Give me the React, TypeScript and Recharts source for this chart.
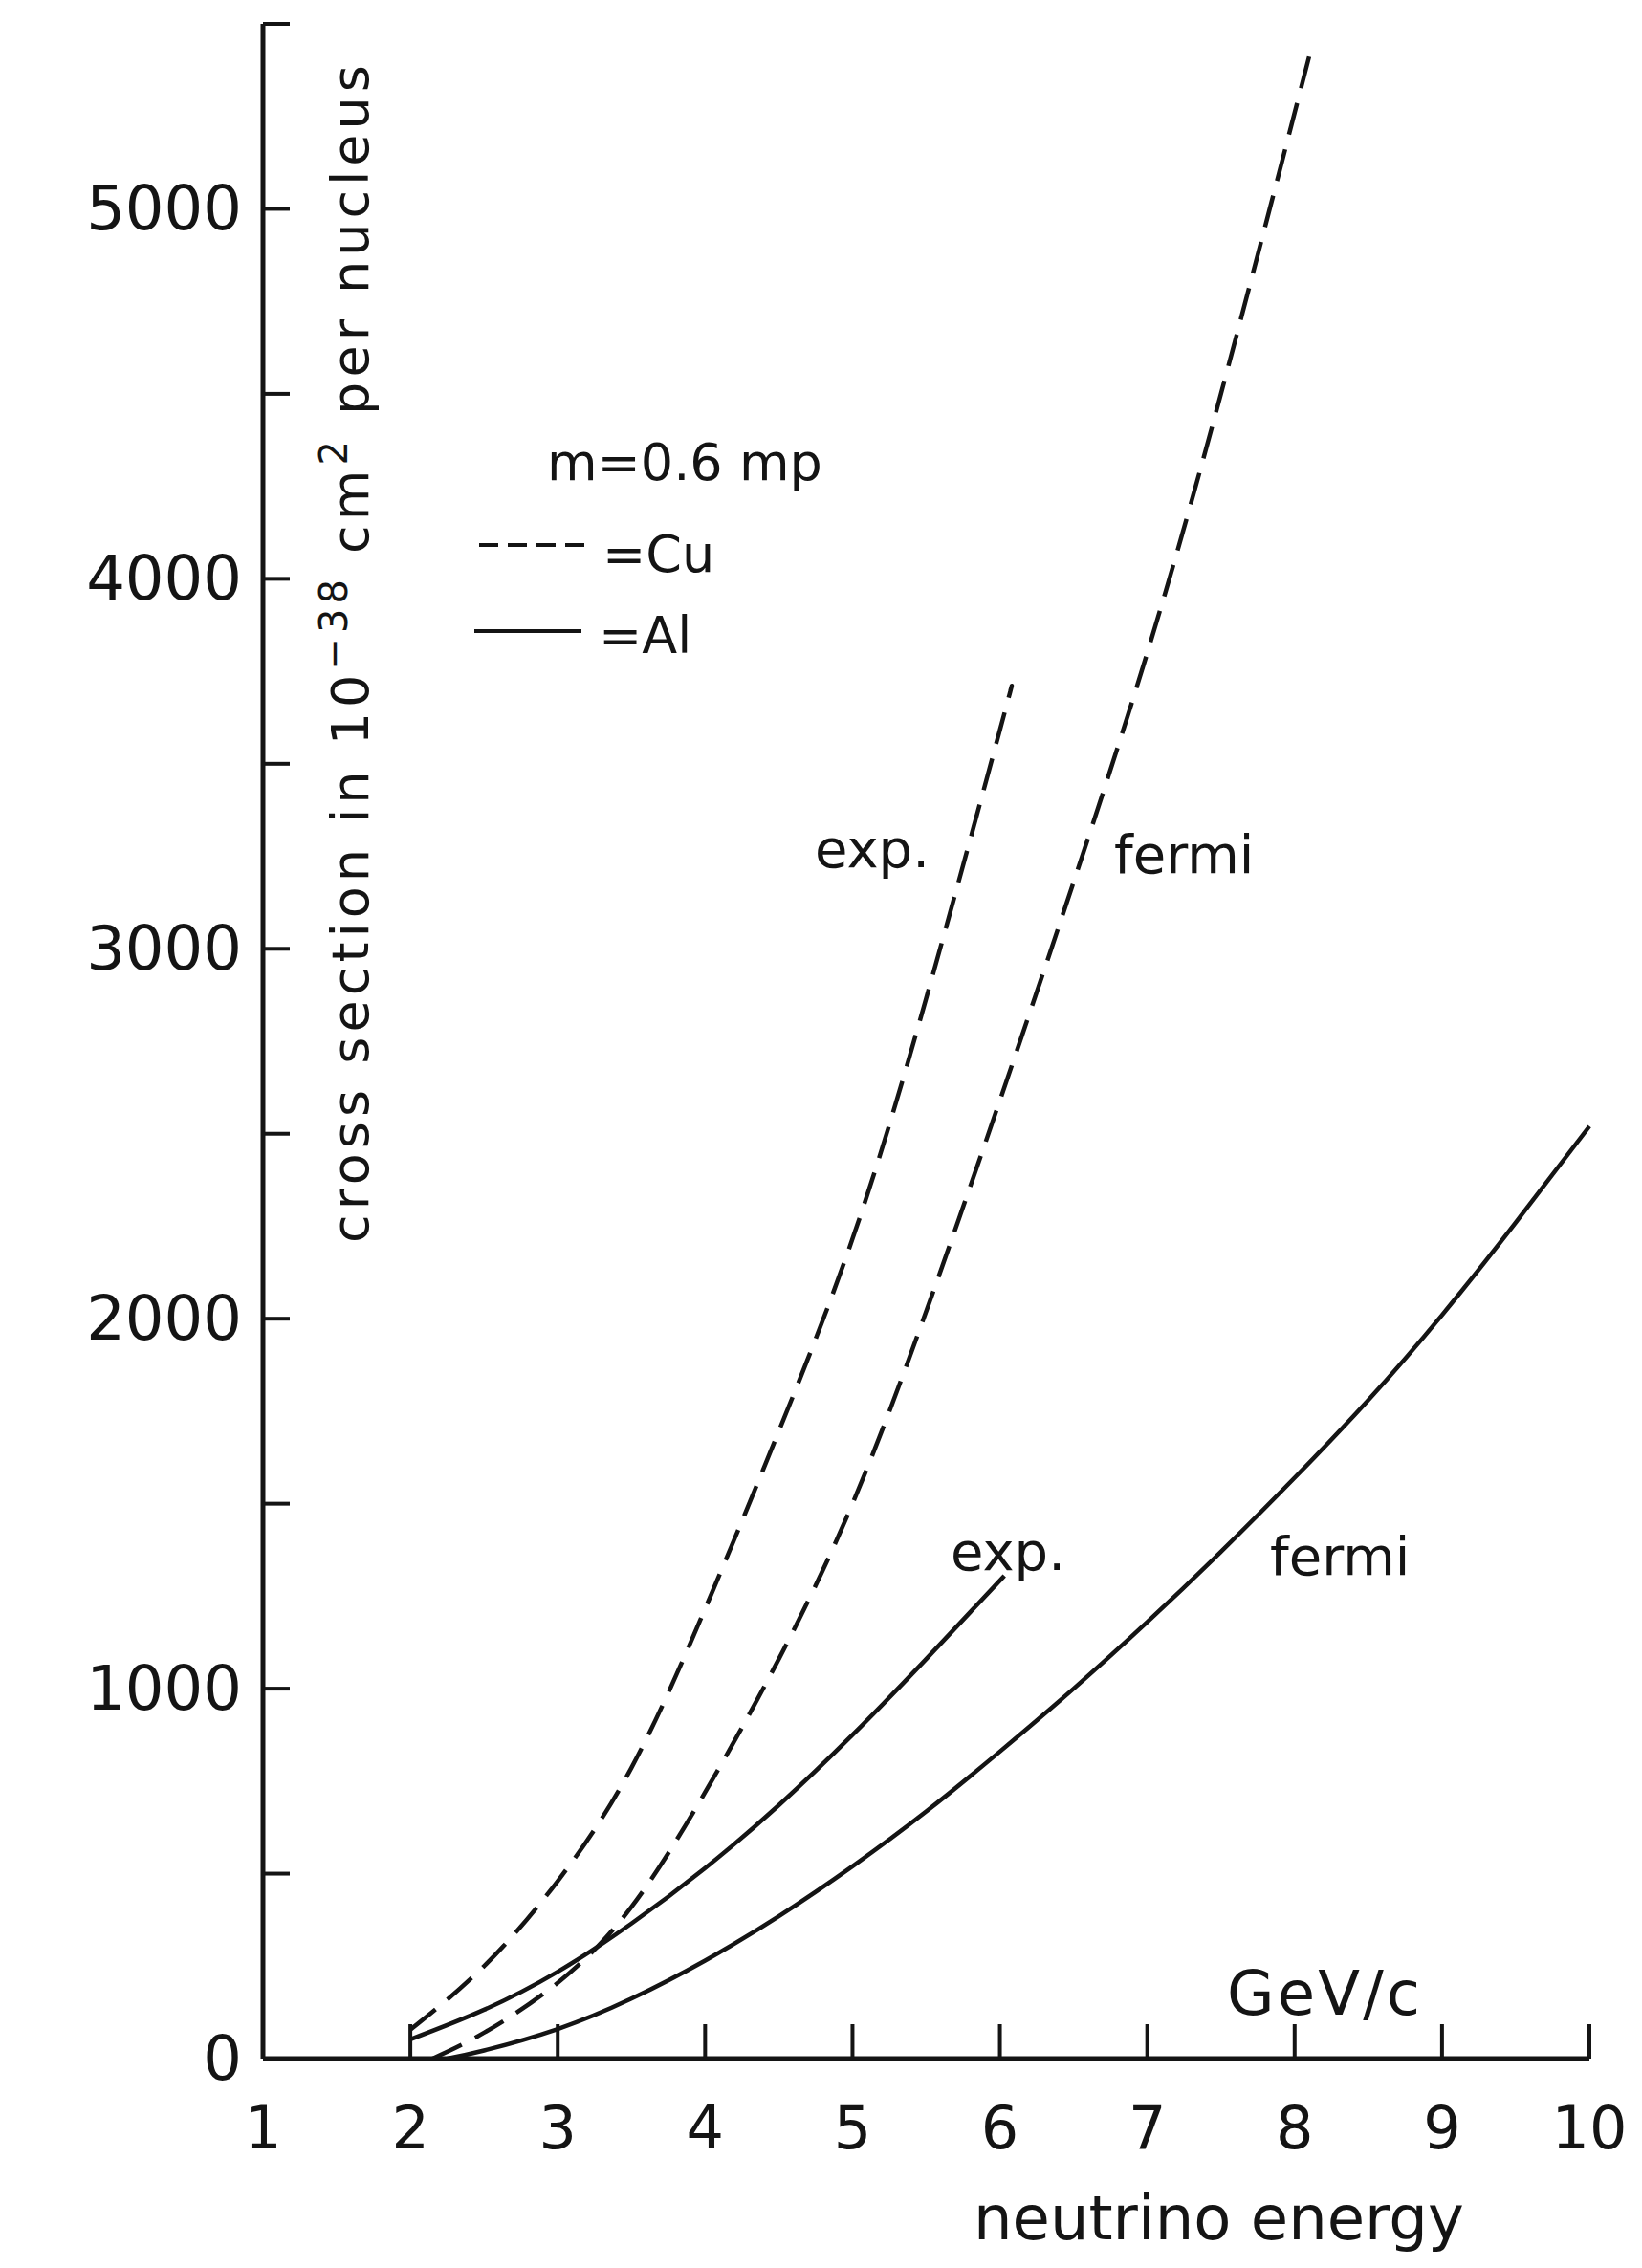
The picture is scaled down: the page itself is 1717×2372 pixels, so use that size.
import { LineChart, Line, XAxis, YAxis } from 'recharts'

// neutrino energy (GeV/c) and cross section (10^-38 cm^2 per nucleus)
const cuExpEnergy = [2.0, 2.5, 3.0, 3.5, 4.0, 4.5, 5.0, 5.5, 6.0, 6.07]
const cuExpSigma = [78, 250, 480, 786, 1216, 1696, 2216, 2866, 3591, 3695]

const cuFermiEnergy = [2.15, 2.5, 3.0, 3.5, 4.0, 4.5, 5.0, 5.5, 6.0, 6.5, 7.0, 7.5, 8.0, 8.1]
const cuFermiSigma = [0, 70, 205, 410, 720, 1080, 1500, 2020, 2590, 3180, 3800, 4500, 5260, 5414]

const alExpEnergy = [2.0, 2.5, 3.0, 3.5, 4.0, 4.5, 5.0, 5.5, 6.03]
const alExpSigma = [52, 132, 235, 365, 515, 685, 875, 1080, 1305]

const alFermiEnergy = [2.25, 2.5, 3.0, 3.5, 4.0, 4.5, 5.0, 5.5, 6.0, 6.5, 7.0, 7.5, 8.0, 8.5, 9.0, 9.5, 10.0]
const alFermiSigma = [0, 22, 80, 162, 265, 385, 520, 668, 830, 1000, 1180, 1370, 1570, 1780, 2010, 2260, 2520]

const energyTicks = [1, 2, 3, 4, 5, 6, 7, 8, 9, 10]
const sigmaTicks = [0, 500, 1000, 1500, 2000, 2500, 3000, 3500, 4000, 4500, 5000, 5500]
const sigmaLabels = ['0', '1000', '2000', '3000', '4000', '5000']

const toRows = (xs: number[], ys: number[]) => xs.map((x, i) => ({ x, y: ys[i] }))

const INK = '#141414'
const FONT = '"DejaVu Sans", sans-serif'

const XTick = ({ x, y, payload }: any) => (
  <g>
    {payload.value > 1 && <line x1={x} y1={y} x2={x} y2={y - 36} stroke={INK} strokeWidth={4} />}
    <text x={x} y={y + 72} textAnchor="middle" dominantBaseline="central" fontSize={62} fontFamily={FONT} fill={INK}>
      {payload.value}
    </text>
  </g>
)

const YTick = ({ x, y, payload }: any) => (
  <g>
    {payload.value > 0 && <line x1={x} y1={y} x2={x + 28} y2={y} stroke={INK} strokeWidth={4} />}
    {sigmaLabels.includes(String(payload.value)) && (
      <text x={x - 22} y={y} textAnchor="end" dominantBaseline="central" fontSize={64} fontFamily={FONT} fill={INK}>
        {payload.value}
      </text>
    )}
  </g>
)

const W = 1701
const H = 2350

export default function App() {
  return (
    <div style={{ position: 'relative', width: W, height: H }}>
      <LineChart width={W} height={H} margin={{ top: 17, right: 47, bottom: 105, left: 67 }}>
        <XAxis
          type="number"
          dataKey="x"
          domain={[1, 10]}
          ticks={energyTicks}
          interval={0}
          tickSize={0}
          tickMargin={0}
          tickLine={false}
          height={100}
          axisLine={{ stroke: INK, strokeWidth: 5 }}
          tick={<XTick />}
        />
        <YAxis
          type="number"
          domain={[0, 5500]}
          ticks={sigmaTicks}
          interval={0}
          tickSize={0}
          tickMargin={0}
          tickLine={false}
          width={200}
          axisLine={{ stroke: INK, strokeWidth: 5 }}
          tick={<YTick />}
        />
        <Line data={toRows(cuExpEnergy, cuExpSigma)} dataKey="y" type="natural" dot={false} stroke={INK} strokeWidth={4.5} strokeDasharray="34 16" isAnimationActive={false} />
        <Line data={toRows(cuFermiEnergy, cuFermiSigma)} dataKey="y" type="natural" dot={false} stroke={INK} strokeWidth={4.5} strokeDasharray="34 16" isAnimationActive={false} />
        <Line data={toRows(alExpEnergy, alExpSigma)} dataKey="y" type="natural" dot={false} stroke={INK} strokeWidth={4.5} isAnimationActive={false} />
        <Line data={toRows(alFermiEnergy, alFermiSigma)} dataKey="y" type="natural" dot={false} stroke={INK} strokeWidth={4.5} isAnimationActive={false} />
      </LineChart>

      {/* annotations, axis titles and the hand-drawn key */}
      <svg width={W} height={H} style={{ position: 'absolute', left: 0, top: 0, pointerEvents: 'none' }} fontFamily={FONT} fill={INK}>
        <text x={377} y={676} transform="rotate(-90 377 676)" textAnchor="middle" fontSize={54} textLength={1232} lengthAdjust="spacing">
          cross section in 10<tspan dy={-22} fontSize={40}>−38</tspan>
          <tspan dy={22}> cm</tspan>
          <tspan dy={-22} fontSize={40}>2</tspan>
          <tspan dy={22}> per nucleus</tspan>
        </text>

        <text x={564} y={494} fontSize={54}>m=0.6 mp</text>
        <line x1={493} y1={562} x2={613} y2={562} stroke={INK} strokeWidth={4} strokeDasharray="20 10" />
        <text x={622} y={590} fontSize={54}>=Cu</text>
        <line x1={488} y1={652} x2={600} y2={652} stroke={INK} strokeWidth={4} />
        <text x={618} y={675} fontSize={54}>=Al</text>

        <text x={844} y={899} fontSize={56}>exp.</text>
        <text x={1157} y={905} fontSize={56}>fermi</text>
        <text x={986} y={1634} fontSize={56}>exp.</text>
        <text x={1320} y={1639} fontSize={56}>fermi</text>

        <text x={1275} y={2099} fontSize={64} textLength={202} lengthAdjust="spacing">GeV/c</text>
        <text x={1010} y={2334} fontSize={64}>neutrino energy</text>
      </svg>
    </div>
  )
}
